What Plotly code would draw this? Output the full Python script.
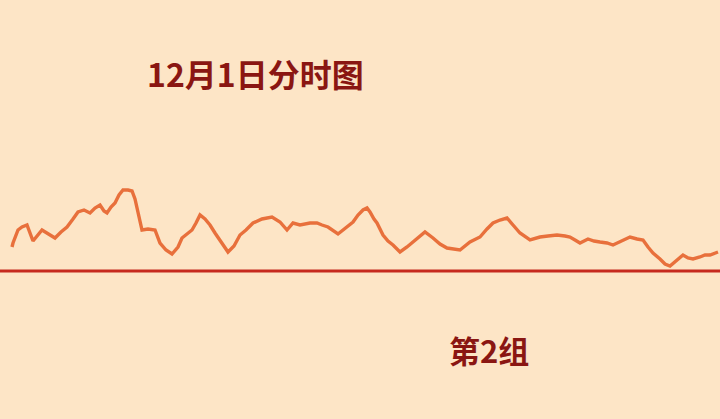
import plotly.graph_objects as go

# intraday trace: horizontal position and height above the previous-close line
minute = [12, 13, 18, 22, 27, 33, 42, 48, 55, 61, 67, 73, 78, 84, 90, 95, 100,
          104, 107, 111, 115, 119, 123, 128, 132, 135, 137, 140, 142, 148, 155,
          160, 166, 172, 178, 182, 187, 192, 196, 200, 205, 210, 215, 220, 228,
          234, 240, 246, 253, 262, 272, 280, 287, 293, 300, 310, 317, 322, 328,
          338, 346, 353, 358, 363, 367, 370, 374, 377, 383, 388, 393, 400, 407,
          413, 420, 425, 433, 440, 447, 453, 460, 470, 480, 487, 493, 500, 507,
          513, 520, 530, 540, 548, 557, 565, 570, 575, 580, 588, 594, 600, 607,
          613, 620, 630, 637, 643, 648, 653, 660, 665, 670, 677, 683, 688, 693,
          700, 705, 710, 718]
height = [24, 28, 41, 44, 46, 30, 41, 37, 33, 39, 44, 52, 59, 61, 58, 63, 66,
          60, 58, 64, 68, 76, 81, 81, 80, 72, 64, 52, 41, 42, 41, 28, 21, 17,
          24, 33, 37, 41, 48, 56, 52, 46, 38, 31, 19, 25, 36, 41, 48, 52, 54,
          49, 41, 48, 46, 48, 48, 46, 44, 37, 43, 49, 56, 61, 63, 59, 52, 48,
          36, 30, 26, 19, 24, 29, 34, 39, 33, 27, 23, 22, 21, 29, 34, 42, 48,
          51, 53, 46, 38, 31, 34, 35, 36, 35, 34, 31, 28, 32, 30, 29, 28, 26,
          29, 34, 32, 31, 24, 18, 12, 7, 5, 11, 16, 13, 12, 14, 16, 16, 19]

baseline = 0

fig = go.Figure()
fig.add_trace(go.Scatter(
    x=minute, y=height,
    mode='lines',
    line=dict(color='#E8703C', width=3.4, shape='linear'),
    hoverinfo='skip',
))

fig.add_shape(type='line', xref='paper', yref='y',
              x0=0, x1=1, y0=baseline, y1=baseline,
              line=dict(color='#C62A1E', width=3))

fig.add_annotation(x=255, y=198, xref='x', yref='y', text='<b>12月1日分时图</b>',
                   showarrow=False, font=dict(size=32, color='#8A1612',
                                              family='Noto Sans CJK SC'))
fig.add_annotation(x=489, y=-78, xref='x', yref='y', text='<b>第2组</b>',
                   showarrow=False, font=dict(size=31, color='#8A1612',
                                              family='Noto Sans CJK SC'))

fig.update_layout(
    width=720, height=419,
    margin=dict(l=0, r=0, t=0, b=0),
    paper_bgcolor='#FDE5C6',
    plot_bgcolor='#FDE5C6',
    showlegend=False,
    xaxis=dict(range=[0, 720], visible=False, fixedrange=True),
    yaxis=dict(range=[-148, 271], visible=False, fixedrange=True),
)

fig.write_html("out.html", config={'displayModeBar': False},
               post_script="document.body.style.margin='0';")
